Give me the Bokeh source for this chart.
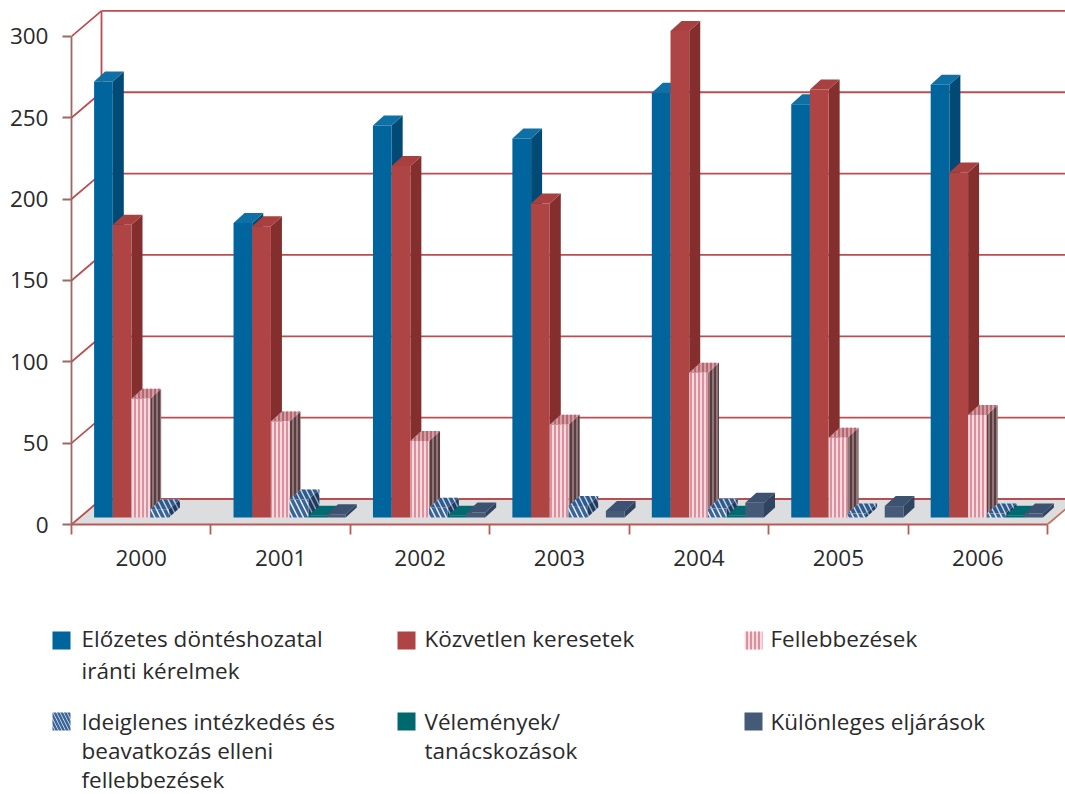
from bokeh.plotting import figure
from bokeh.layouts import column, row
from bokeh.models import FixedTicker, Range1d
from bokeh.core.properties import value
from bokeh.embed import file_html
from bokeh.resources import INLINE

years = ["2000", "2001", "2002", "2003", "2004", "2005", "2006"]
elozetes = [268, 181, 241, 233, 261, 254, 266]
kozvetlen = [180, 179, 216, 193, 299, 263, 212]
fellebbezes = [73, 59, 47, 57, 89, 49, 63]
ideiglenes = [5, 11, 6, 7, 5.5, 2.5, 2.5]
velemenyek = [0, 1, 1, 0, 1, 0, 1]
kulonleges = [0, 2, 3, 4, 9, 7, 2.5]
y_ticks = [0, 50, 100, 150, 200, 250, 300]

legend_rows = [
    ["Előzetes döntéshozatal", "iránti kérelmek"],
    ["Közvetlen keresetek"],
    ["Fellebbezések"],
    ["Ideiglenes intézkedés és", "beavatkozás elleni", "fellebbezések"],
    ["Vélemények/", "tanácskozások"],
    ["Különleges eljárások"],
]

FONT = "Open Sans"
FS = "22.5px"
TXT = "#2b2a2b"

# pixel geometry helpers
PX_X = 139.43
PX_Y = 1.627
bar_w = 18.7 / PX_X
base = 7 / PX_Y
dx = 11 / PX_X
dy = 10 / PX_Y
wall_dx = 30 / PX_X
wall_dy = 25.5 / PX_Y
start = 22.6 / PX_X

series = [
    (elozetes, dict(fill_color="#00659c"), dict(fill_color="#004a75"), dict(fill_color="#0f70a5")),
    (kozvetlen, dict(fill_color="#ae4544"), dict(fill_color="#842f2e"), dict(fill_color="#a84040")),
    (fellebbezes,
     dict(fill_color="#f7d9de", hatch_pattern="vertical_line", hatch_color="#dc8f9c", hatch_scale=4, hatch_weight=2),
     dict(fill_color="#8f7577", hatch_pattern="vertical_line", hatch_color="#5a3d3f", hatch_scale=4, hatch_weight=2),
     dict(fill_color="#d99aa2", hatch_pattern="vertical_line", hatch_color="#b06a74", hatch_scale=4, hatch_weight=2)),
    (ideiglenes,
     dict(fill_color="#eef3f8", hatch_pattern="left_diagonal_line", hatch_color="#3a6596", hatch_scale=11, hatch_weight=3.5),
     dict(fill_color="#8ea4c0", hatch_pattern="left_diagonal_line", hatch_color="#1f3a5c", hatch_scale=11, hatch_weight=3.5),
     dict(fill_color="#c8d5e5", hatch_pattern="left_diagonal_line", hatch_color="#2f5a8c", hatch_scale=11, hatch_weight=3.5)),
    (velemenyek, dict(fill_color="#00686f"), dict(fill_color="#004d52"), dict(fill_color="#006a72")),
    (kulonleges, dict(fill_color="#445a76"), dict(fill_color="#2e4460"), dict(fill_color="#3c5270")),
]

p = figure(width=1065, height=580, x_range=Range1d(0, 994 / PX_X), y_range=Range1d(0, 524 / PX_Y),
           output_backend="svg", toolbar_location=None,
           min_border_left=71, min_border_right=0, min_border_top=0, min_border_bottom=56)
p.outline_line_color = None
p.grid.visible = False

n = len(years)
vals = y_ticks
top_x = 994 / PX_X + 1

# floor
p.patch([0, wall_dx, n + wall_dx, n], [0, wall_dy, wall_dy, 0], fill_color="#dcddde", line_color=None)
# back wall lines
WALL = "#b84e50"
p.segment(x0=[wall_dx] * len(vals), y0=[v + wall_dy for v in vals], x1=[top_x] * len(vals),
          y1=[v + wall_dy for v in vals], line_color=WALL, line_width=1.8)
# side wall diagonals
p.segment(x0=[0] * len(vals), y0=vals, x1=[wall_dx] * len(vals), y1=[v + wall_dy for v in vals],
          line_color=WALL, line_width=1.8)
# back wall corner
p.segment(x0=[wall_dx], y0=[wall_dy], x1=[wall_dx], y1=[max(vals) + wall_dy], line_color=WALL, line_width=1.8)
# floor right edge
p.segment(x0=[n], y0=[0], x1=[n + wall_dx], y1=[wall_dy], line_color="#c9705a", line_width=1.8)

for j, (vs, front, side, top) in enumerate(series):
    L, R, B, T = [], [], [], []
    for i, v in enumerate(vs):
        if v <= 0:
            continue
        left = i + start + j * bar_w
        L.append(left); R.append(left + bar_w); B.append(base); T.append(base + v)
    side_xs = [[r, r + dx, r + dx, r] for r in R]
    side_ys = [[t, t + dy, b + dy, b] for t, b in zip(T, B)]
    top_xs = [[l, l + dx, r + dx, r] for l, r in zip(L, R)]
    top_ys = [[t, t + dy, t + dy, t] for t in T]
    p.patches(side_xs, side_ys, line_color=None, **side)
    p.patches(top_xs, top_ys, line_color=None, **top)
    p.quad(left=L, right=R, bottom=B, top=T, line_color=None, **front)

ax = p.yaxis[0]
ax.ticker = FixedTicker(ticks=y_ticks)
ax.bounds = (0, 300)
ax.axis_line_color = "#9a6a62"
ax.axis_line_width = 1.8
ax.major_tick_line_color = "#9a6a62"
ax.major_tick_line_width = 1.8
ax.major_tick_in = 0
ax.major_tick_out = 9
ax.minor_tick_line_color = None
ax.major_label_standoff = 14
ax.major_label_text_font = FONT
ax.major_label_text_font_size = FS
ax.major_label_text_color = TXT

ax = p.xaxis[0]
centers = [i + 0.5 for i in range(n)]
ax.ticker = FixedTicker(ticks=centers, minor_ticks=list(range(n + 1)))
ax.major_label_overrides = dict(zip(centers, years))
ax.bounds = (0, n)
ax.axis_line_color = "#b85a55"
ax.axis_line_width = 1.8
ax.major_tick_line_color = None
ax.major_tick_in = 0
ax.major_tick_out = 0
ax.minor_tick_line_color = "#b85a55"
ax.minor_tick_line_width = 1.8
ax.minor_tick_in = 0
ax.minor_tick_out = 10
ax.major_label_standoff = 15
ax.major_label_text_font = FONT
ax.major_label_text_font_size = FS
ax.major_label_text_color = TXT

# legend panel, in page pixels
q = figure(width=1065, height=214, x_range=Range1d(0, 1065), y_range=Range1d(794, 580),
           output_backend="svg", toolbar_location=None,
           min_border_left=0, min_border_right=0, min_border_top=0, min_border_bottom=0,
           x_axis_type=None, y_axis_type=None)
q.outline_line_color = None
q.grid.visible = False

sw_x = [52, 397, 744]
tx_x = [81, 424, 770]
sw_y = [631, 712]
tx_y = [638, 721]
gap = [32, 29]
for k, lines in enumerate(legend_rows):
    c, r = k % 3, k // 3
    style = dict(series[k][1])
    if "hatch_scale" in style and k == 3:
        style.update(hatch_scale=7, hatch_weight=2.5)
    q.quad(left=[sw_x[c]], right=[sw_x[c] + 18], top=[sw_y[r]], bottom=[sw_y[r] + 18], line_color=None, **style)
    q.text(x=[tx_x[c]] * len(lines), y=[tx_y[r] + gap[r] * i for i in range(len(lines))], text=lines,
           text_font=value(FONT), text_font_size=FS, text_color=TXT, text_baseline="alphabetic")

open("out.html", "w").write(file_html(column(p, row(q)), INLINE))
